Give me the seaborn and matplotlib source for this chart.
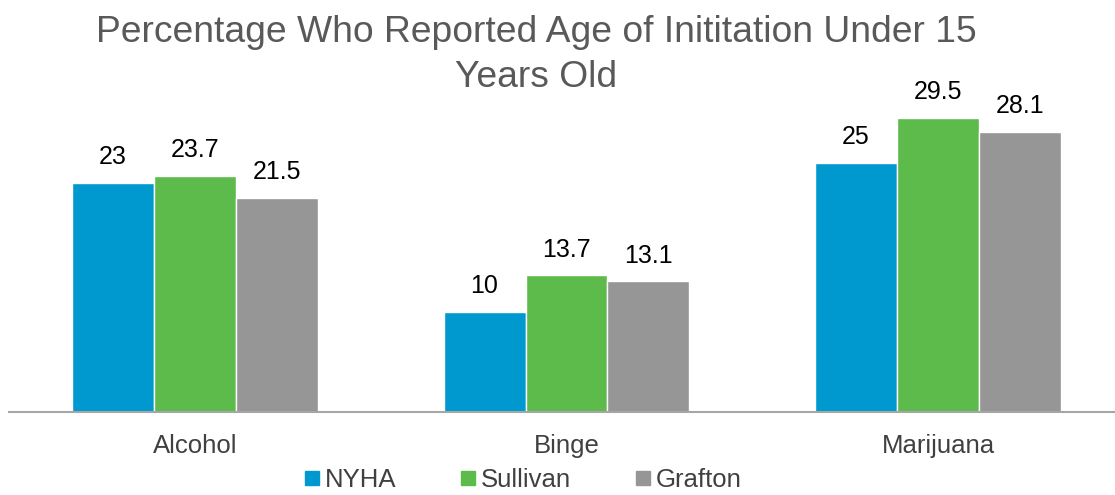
import pandas as pd
import matplotlib
matplotlib.use("Agg")
import matplotlib.pyplot as plt
import seaborn as sns

# Data
categories = ["Alcohol", "Binge", "Marijuana"]
groups = ["NYHA", "Sullivan", "Grafton"]
nyha = [23, 10, 25]
sullivan = [23.7, 13.7, 29.5]
grafton = [21.5, 13.1, 28.1]

colors = ["#0099CF", "#5CBB4A", "#969696"]

df = pd.DataFrame({
    "category": categories * 3,
    "group": [g for g in groups for _ in categories],
    "value": nyha + sullivan + grafton,
})

sns.set_style("white")
plt.rcParams["font.family"] = ["Liberation Sans", "DejaVu Sans"]

fig = plt.figure(figsize=(11.15, 4.95), dpi=100)
ax = fig.add_axes([9.25 / 1115, 83 / 495, 1114.5 / 1115, 320 / 495])

sns.barplot(data=df, x="category", y="value", hue="group", hue_order=groups,
            palette=colors, width=0.662, saturation=1, ax=ax, legend=False)

for container in ax.containers:
    ax.bar_label(container, labels=[f"{v:g}" for v in container.datavalues],
                 padding=10, fontsize=18, color="black")

ax.set_ylim(0, 32.1)
ax.set_xlim(-0.5, 2.5)
ax.set_xlabel("")
ax.set_ylabel("")
ax.set_yticks([])
ax.tick_params(axis="x", length=0, labelsize=18.5, labelcolor="#404040", pad=16)
for side in ["top", "right", "left"]:
    ax.spines[side].set_visible(False)
ax.spines["bottom"].set_color("#A6A6A6")
ax.spines["bottom"].set_linewidth(1.5)

# Title in two lines (kept as separate texts so the short second line stays compact)
fig.text(0.481, 1 - 42 / 495, "Percentage Who Reported Age of Inititation Under 15",
         ha="center", va="baseline", fontsize=26.8, color="#595959")
fig.text(0.481, 1 - 87 / 495, "Years Old",
         ha="center", va="baseline", fontsize=26.8, color="#595959")

handles = [plt.Line2D([], [], marker="s", linestyle="", markersize=9.5,
                      markerfacecolor=c, markeredgecolor=c) for c in colors]
fig.legend(handles, groups, loc="center", bbox_to_anchor=(0.469, 0.03),
           ncol=3, frameon=False, fontsize=18.5, handlelength=0.6,
           handletextpad=0.2, columnspacing=2.5, labelcolor="#404040",
           borderpad=0)

fig.savefig("out.png", dpi=100)
